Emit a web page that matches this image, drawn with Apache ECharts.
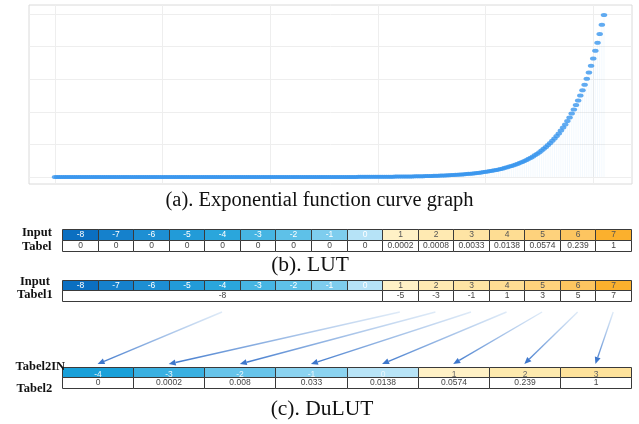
<!DOCTYPE html>
<html>
<head>
<meta charset="utf-8">
<script src="https://cdn.jsdelivr.net/npm/echarts@6/dist/echarts.min.js"></script>
<style>
  html, body { margin: 0; padding: 0; background: #fff; }
  #main { width: 639px; height: 424px; }
</style>
</head>
<body>
<div id="main"></div>
<script>
// (a) exponential curve, 256 samples
var expCurve = [
  0, 0, 0, 0, 0, 0, 0, 0, 0, 0, 0, 0, 0, 0, 0, 0,
  0, 0, 0, 0, 0, 0, 0, 0, 0, 0, 0, 0, 0, 0, 0, 0,
  0, 0, 0, 0, 0, 0, 0, 0, 0, 0, 0, 0.01, 0.01, 0.01, 0.01, 0.01,
  0.01, 0.01, 0.01, 0.01, 0.01, 0.01, 0.01, 0.01, 0.01, 0.01, 0.01, 0.01, 0.02, 0.02, 0.02, 0.02,
  0.02, 0.02, 0.02, 0.02, 0.03, 0.03, 0.03, 0.03, 0.03, 0.03, 0.04, 0.04, 0.04, 0.04, 0.05, 0.05,
  0.05, 0.06, 0.06, 0.06, 0.07, 0.07, 0.08, 0.08, 0.09, 0.09, 0.10, 0.11, 0.11, 0.12, 0.13, 0.14,
  0.14, 0.15, 0.16, 0.17, 0.18, 0.20, 0.21, 0.22, 0.24, 0.25, 0.27, 0.29, 0.30, 0.32, 0.35, 0.37,
  0.39, 0.42, 0.44, 0.47, 0.50, 0.54, 0.57, 0.61, 0.65, 0.69, 0.73, 0.78, 0.83, 0.88, 0.94, 1.00,
  1.06, 1.13, 1.21, 1.28, 1.37, 1.45, 1.55, 1.65, 1.76, 1.87, 1.99, 2.12, 2.25, 2.40, 2.55, 2.72,
  2.89, 3.08, 3.28, 3.49, 3.72, 3.96, 4.21, 4.48, 4.77, 5.08, 5.41, 5.75, 6.13, 6.52, 6.94, 7.39,
  7.87, 8.37, 8.91, 9.49, 10.1, 10.75, 11.44, 12.18, 12.97, 13.8, 14.69, 15.64, 16.65, 17.73, 18.87, 20.09,
  21.38, 22.76, 24.23, 25.79, 27.45, 29.22, 31.11, 33.12, 35.25, 37.52, 39.94, 42.52, 45.26, 48.18, 51.29, 54.6,
  58.12, 61.87, 65.86, 70.11, 74.63, 79.44, 84.56, 90.02, 95.82, 102, 108.58, 115.58, 123.04, 130.97, 139.42, 148.41,
  158, 168, 179, 191, 203, 216, 230, 245, 260, 277, 295, 314, 334, 356, 379, 403,
  429, 457, 487, 518, 551, 587, 625, 665, 708, 754, 802, 854, 909, 968, 1030, 1097,
  1167, 1243, 1323, 1408, 1499, 1596, 1698, 1808, 1925, 2049, 2181, 2322, 2471, 2631, 2800, 2981
];

// (b) LUT
var lutInput = [-8, -7, -6, -5, -4, -3, -2, -1, 0, 1, 2, 3, 4, 5, 6, 7];
var lutTabel = ['0', '0', '0', '0', '0', '0', '0', '0', '0', '0.0002', '0.0008', '0.0033', '0.0138', '0.0574', '0.239', '1'];
var inputColors = ['#0b6fc1', '#1581cc', '#1d8fd3', '#229bd8', '#2aa6dc', '#46b5e3', '#5ec1e8', '#7ecdee', '#b6e3f7',
  '#fff1c6', '#ffeab2', '#fee4a4', '#fedd93', '#fed27c', '#fdc560', '#fbb02d'];

// (c) DuLUT
var tabel1Spans = [[-8, 0], [1, 1], [2, 2], [3, 3], [4, 4], [5, 5], [6, 6], [7, 7]];
var tabel1 = ['-8', '-5', '-3', '-1', '1', '3', '5', '7'];
var tabel2In = [-4, -3, -2, -1, 0, 1, 2, 3];
var tabel2 = ['0', '0.0002', '0.008', '0.033', '0.0138', '0.0574', '0.239', '1'];
var tabel2InColors = ['#19a0d9', '#3ab0e1', '#67c4ea', '#8bd3f0', '#b8e4f7', '#fff1c6', '#feeaae', '#fee29b'];

var chart = echarts.init(document.getElementById('main'));

var serif = '"Liberation Serif", "Times New Roman", serif';
var sans = '"Liberation Sans", Arial, sans-serif';

function hidden(extra) {
  var a = { show: false, splitLine: { show: false } };
  for (var k in extra) a[k] = extra[k];
  return a;
}

function cellRenderer(cells) {
  return function (params, api) {
    var c = cells[params.dataIndex];
    var row = api.value(2);
    var p0 = api.coord([api.value(0) - 0.5, row]);
    var p1 = api.coord([api.value(1) + 0.5, row]);
    var h = api.size([0, 1])[1];
    var x = Math.round(p0[0]) + 0.5, y = Math.round(p0[1] - h / 2) + 0.5;
    var w = Math.round(p1[0]) - Math.round(p0[0]);
    return {
      type: 'group',
      children: [
        { type: 'rect', shape: { x: x, y: y, width: w, height: Math.round(h) },
          style: { fill: c.fill, stroke: '#3a3a3a', lineWidth: 1 } },
        { type: 'text', style: { text: c.text, x: x + w / 2, y: y + h / 2 + (c.dy || 0),
          align: 'center', verticalAlign: 'middle', fill: c.color, fontSize: 8.5, fontFamily: sans } }
      ]
    };
  };
}

function cellSeries(gridIdx, cells) {
  return {
    type: 'custom', xAxisIndex: gridIdx, yAxisIndex: gridIdx,
    encode: { x: [0, 1], y: 2 },
    renderItem: cellRenderer(cells),
    data: cells.map(function (c) { return [c.x0, c.x1, c.row]; }),
    silent: true
  };
}

// build table cells
var lutCells = [], t1Cells = [], t2Cells = [];
lutInput.forEach(function (v, i) {
  var inCell = { x0: v, x1: v, row: 0, text: String(v), fill: inputColors[i], color: v <= 0 ? '#ffffff' : '#555' };
  lutCells.push(inCell);
  lutCells.push({ x0: v, x1: v, row: 1, text: lutTabel[i], fill: '#fff', color: '#444' });
  t1Cells.push(inCell);
});
tabel1Spans.forEach(function (s, i) {
  t1Cells.push({ x0: s[0], x1: s[1], row: 1, text: tabel1[i], fill: '#fff', color: '#444' });
});
tabel2In.forEach(function (v, i) {
  t2Cells.push({ x0: v, x1: v, row: 0, text: String(v), fill: tabel2InColors[i], color: v <= 0 ? '#eaf6fc' : '#666', dy: 2 });
  t2Cells.push({ x0: v, x1: v, row: 1, text: tabel2[i], fill: '#fff', color: '#444' });
});

// arrows: Tabel1 cell centre -> Tabel2IN cell (in LUT column units)
var arrowFrom = tabel1Spans.map(function (s) { return (s[0] + s[1]) / 2; });
var arrowTo = tabel2In.map(function (v) { return 2 * v + 0.5; });

var option = {
  backgroundColor: '#fff',
  animation: false,
  grid: [
    { left: 29, top: 5, width: 603, height: 179, show: true, borderColor: '#dadada', borderWidth: 1, backgroundColor: 'transparent', outerBoundsMode: 'none' },
    { left: 29, top: 14, width: 603, height: 163, outerBoundsMode: 'none' },
    { left: 55, top: 5, width: 549, height: 179, outerBoundsMode: 'none' },
    { left: 62, top: 229, width: 569, height: 21.4, outerBoundsMode: 'none' },
    { left: 62, top: 279.5, width: 569, height: 21.4, outerBoundsMode: 'none' },
    { left: 62, top: 312, width: 569, height: 52, outerBoundsMode: 'none' },
    { left: 62, top: 366.5, width: 569, height: 21.6, outerBoundsMode: 'none' }
  ],
  xAxis: [
    hidden({ type: 'value', gridIndex: 0 }),
    hidden({ type: 'value', gridIndex: 1 }),
    {
      type: 'category', gridIndex: 2, boundaryGap: false,
      axisLine: { show: false }, axisTick: { show: false }, axisLabel: { show: false },
      splitLine: { show: true, interval: 49, lineStyle: { color: '#eeeeee', width: 1 } }
    },
    hidden({ type: 'value', gridIndex: 3, min: -8.5, max: 7.5 }),
    hidden({ type: 'value', gridIndex: 4, min: -8.5, max: 7.5 }),
    hidden({ type: 'value', gridIndex: 5, min: -8.5, max: 7.5 }),
    hidden({ type: 'value', gridIndex: 6, min: -4.5, max: 3.5 })
  ],
  yAxis: [
    hidden({ type: 'value', gridIndex: 0 }),
    {
      type: 'value', gridIndex: 1, min: 0, max: 3000, interval: 600,
      axisLine: { show: false }, axisTick: { show: false }, axisLabel: { show: false },
      splitLine: { show: true, lineStyle: { color: '#eeeeee', width: 1 } }
    },
    hidden({ type: 'value', gridIndex: 2, min: -128.8, max: 3165.6 }),
    hidden({ type: 'category', gridIndex: 3, data: ['Input', 'Tabel'], inverse: true }),
    hidden({ type: 'category', gridIndex: 4, data: ['Input', 'Tabel1'], inverse: true }),
    hidden({ type: 'value', gridIndex: 5, min: 0, max: 1 }),
    hidden({ type: 'category', gridIndex: 6, data: ['Tabel2IN', 'Tabel2'], inverse: true })
  ],
  series: [
    {
      type: 'bar', xAxisIndex: 2, yAxisIndex: 2, data: expCurve, barWidth: 1,
      itemStyle: { color: 'rgba(90,165,235,0.07)' }, silent: true
    },
    {
      type: 'scatter', xAxisIndex: 2, yAxisIndex: 2, data: expCurve,
      symbol: 'circle', symbolSize: [6.5, 4], itemStyle: { color: '#3a96ee' }, silent: true
    },
    cellSeries(3, lutCells),
    cellSeries(4, t1Cells),
    cellSeries(6, t2Cells),
    {
      type: 'custom', xAxisIndex: 5, yAxisIndex: 5, silent: true,
      encode: { x: [0, 1] },
      data: arrowFrom.map(function (f, i) { return [f, arrowTo[i]]; }),
      renderItem: function (params, api) {
        var s = api.coord([api.value(0), 1]);
        var e = api.coord([api.value(1), 0]);
        var dx = e[0] - s[0], dy = e[1] - s[1];
        var len = Math.sqrt(dx * dx + dy * dy), ux = dx / len, uy = dy / len;
        var hl = 7, hw = 3;
        var bx = e[0] - ux * hl, by = e[1] - uy * hl;
        return {
          type: 'group',
          children: [
            { type: 'line', shape: { x1: s[0], y1: s[1], x2: bx, y2: by },
              style: { lineWidth: 1.4, stroke: new echarts.graphic.LinearGradient(s[0], s[1], e[0], e[1],
                [{ offset: 0, color: 'rgba(190,214,240,0.5)' }, { offset: 1, color: '#3d77cc' }], true) } },
            { type: 'polygon', shape: { points: [[e[0], e[1]], [bx - uy * hw, by + ux * hw], [bx + uy * hw, by - ux * hw]] },
              style: { fill: '#3d77cc' } }
          ]
        };
      }
    }
  ],
  graphic: [
    { type: 'text', left: 'center', top: 190, style: { text: '(a). Exponential function curve graph', fontSize: 20.5, fontFamily: serif, fill: '#111' } },
    { type: 'text', x: 310, y: 265, style: { text: '(b). LUT', align: 'center', verticalAlign: 'middle', fontSize: 21.5, fontFamily: serif, fill: '#111' } },
    { type: 'text', x: 322, y: 409, style: { text: '(c). DuLUT', align: 'center', verticalAlign: 'middle', fontSize: 21.5, fontFamily: serif, fill: '#111' } },
    { type: 'text', x: 22, y: 232.5, z: 100, style: { text: 'Input', verticalAlign: 'middle', fontSize: 12.5, fontWeight: 'bold', fontFamily: serif, fill: '#111' } },
    { type: 'text', x: 22, y: 247, z: 100, style: { text: 'Tabel', verticalAlign: 'middle', fontSize: 12.5, fontWeight: 'bold', fontFamily: serif, fill: '#111' } },
    { type: 'text', x: 20, y: 281.5, z: 100, style: { text: 'Input', verticalAlign: 'middle', fontSize: 12.5, fontWeight: 'bold', fontFamily: serif, fill: '#111' } },
    { type: 'text', x: 17, y: 294.5, z: 100, style: { text: 'Tabel1', verticalAlign: 'middle', fontSize: 12.5, fontWeight: 'bold', fontFamily: serif, fill: '#111' } },
    { type: 'text', x: 15.5, y: 366.5, z: 100, style: { text: 'Tabel2IN', verticalAlign: 'middle', fontSize: 12.5, fontWeight: 'bold', fontFamily: serif, fill: '#111' } },
    { type: 'text', x: 16.5, y: 389, z: 100, style: { text: 'Tabel2', verticalAlign: 'middle', fontSize: 12.5, fontWeight: 'bold', fontFamily: serif, fill: '#111' } }
  ]
};

chart.setOption(option);
</script>
</body>
</html>
